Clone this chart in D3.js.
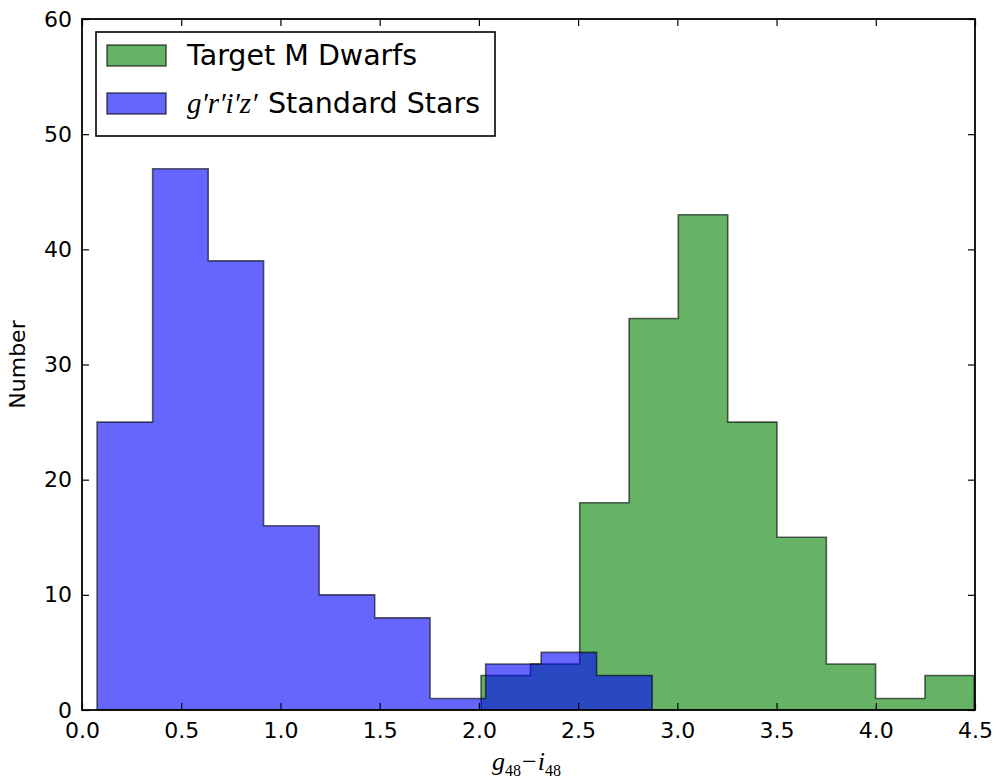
<!DOCTYPE html>
<html>
<head>
<meta charset="utf-8">
<script src="https://cdn.jsdelivr.net/npm/d3@7"></script>
<style>
  html, body { margin: 0; padding: 0; background: #fff; }
  svg { display: block; }
</style>
</head>
<body>
<div id="chart"></div>
<script>
// Histogram bin edges and counts for the two samples
const dwarfEdges = [2.011, 2.260, 2.508, 2.757, 3.005, 3.254, 3.502, 3.751, 3.999, 4.248, 4.496];
const dwarfCounts = [3, 4, 18, 34, 43, 25, 15, 4, 1, 3];

const standardEdges = [0.076, 0.356, 0.636, 0.915, 1.195, 1.475, 1.754, 2.034, 2.314, 2.593, 2.873];
const standardCounts = [25, 47, 39, 16, 10, 8, 1, 4, 5, 3];

const xTicks = [0.0, 0.5, 1.0, 1.5, 2.0, 2.5, 3.0, 3.5, 4.0, 4.5];
const yTicks = [0, 10, 20, 30, 40, 50, 60];

const W = 998, H = 784;
const plot = { left: 82, top: 19, right: 975, bottom: 710 };

const svg = d3.select("#chart").append("svg")
  .attr("width", W).attr("height", H)
  .style("font-family", "'DejaVu Sans', sans-serif");

const x = d3.scaleLinear().domain([0, 4.5]).range([plot.left, plot.right]);
const y = d3.scaleLinear().domain([0, 60]).range([plot.bottom, plot.top]);

svg.append("defs").append("clipPath").attr("id", "plotClip")
  .append("rect")
  .attr("x", plot.left).attr("y", plot.top)
  .attr("width", plot.right - plot.left).attr("height", plot.bottom - plot.top);

// Step outline of a histogram, closed along the baseline
function stepPoints(edges, counts) {
  const pts = [[edges[0], 0]];
  counts.forEach((c, i) => {
    pts.push([edges[i], c]);
    pts.push([edges[i + 1], c]);
  });
  pts.push([edges[edges.length - 1], 0]);
  return pts;
}
const line = d3.line().x(d => x(d[0])).y(d => y(d[1]));

const g = svg.append("g").attr("clip-path", "url(#plotClip)");

const series = [
  { edges: dwarfEdges, counts: dwarfCounts, color: "#008000", label: "Target M Dwarfs" },
  { edges: standardEdges, counts: standardCounts, color: "#0000ff", label: "Standard Stars" }
];

series.forEach(s => {
  g.append("path")
    .attr("d", line(stepPoints(s.edges, s.counts)) + "Z")
    .attr("fill", s.color).attr("fill-opacity", 0.6)
    .attr("stroke", "#000").attr("stroke-opacity", 0.6)
    .attr("stroke-width", 1.6)
    .attr("stroke-linejoin", "miter");
});

// Axes with inward ticks on all four sides
const tickLen = 7;
const axB = svg.append("g").attr("transform", `translate(0,${plot.bottom})`)
  .call(d3.axisBottom(x).tickValues(xTicks).tickFormat(d3.format(".1f")).tickSizeInner(-tickLen).tickSizeOuter(0).tickPadding(12));
const axT = svg.append("g").attr("transform", `translate(0,${plot.top})`)
  .call(d3.axisTop(x).tickValues(xTicks).tickFormat("").tickSizeInner(-tickLen).tickSizeOuter(0));
const axL = svg.append("g").attr("transform", `translate(${plot.left},0)`)
  .call(d3.axisLeft(y).tickValues(yTicks).tickFormat(d3.format("d")).tickSizeInner(-tickLen).tickSizeOuter(0).tickPadding(10));
const axR = svg.append("g").attr("transform", `translate(${plot.right},0)`)
  .call(d3.axisRight(y).tickValues(yTicks).tickFormat("").tickSizeInner(-tickLen).tickSizeOuter(0));

[axB, axT, axL, axR].forEach(a => {
  a.select(".domain").remove();
  a.selectAll(".tick line").attr("stroke", "#000").attr("stroke-width", 1.2);
  a.selectAll("text").attr("fill", "#000").style("font-size", "22px")
    .style("font-family", "'DejaVu Sans', sans-serif");
});
axB.selectAll("text").attr("dy", "0.71em");

// Frame
svg.append("rect")
  .attr("x", plot.left).attr("y", plot.top)
  .attr("width", plot.right - plot.left).attr("height", plot.bottom - plot.top)
  .attr("fill", "none").attr("stroke", "#000").attr("stroke-width", 1.8);

// Axis titles
svg.append("text")
  .attr("transform", `translate(25,${(plot.top + plot.bottom) / 2}) rotate(-90)`)
  .attr("text-anchor", "middle")
  .style("font-size", "22px")
  .text("Number");

const xl = svg.append("text")
  .attr("x", 492).attr("y", 770)
  .attr("text-anchor", "start")
  .style("font-family", "'Liberation Serif', 'DejaVu Serif', serif")
  .style("font-size", "26px");
xl.append("tspan").style("font-style", "italic").text("g");
xl.append("tspan").attr("dy", 6).style("font-size", "16px").text("48");
xl.append("tspan").attr("dy", -6).attr("dx", 1).text("\u2212");
xl.append("tspan").attr("dx", 1).style("font-style", "italic").text("i");
xl.append("tspan").attr("dy", 6).style("font-size", "16px").text("48");

// Legend
const leg = svg.append("g");
leg.append("rect")
  .attr("x", 96).attr("y", 32).attr("width", 399).attr("height", 104)
  .attr("fill", "#fff").attr("stroke", "#000").attr("stroke-width", 1.6);

series.forEach((s, i) => {
  const yy = 45 + i * 48;
  leg.append("rect")
    .attr("x", 107).attr("y", yy).attr("width", 59).attr("height", 21)
    .attr("fill", s.color).attr("fill-opacity", 0.6)
    .attr("stroke", "#000").attr("stroke-opacity", 0.6).attr("stroke-width", 1.6);
  const t = leg.append("text")
    .attr("x", 187).attr("y", yy + 20)
    .style("font-size", "28.5px");
  if (i === 1) {
    const m = t.append("tspan")
      .style("font-family", "'Liberation Serif', 'DejaVu Serif', serif")
      .style("font-style", "italic").style("font-size", "29px");
    m.text("g\u2032r\u2032i\u2032z\u2032");
    t.append("tspan").attr("x", 268).text("Standard Stars");
  } else {
    t.text(s.label);
  }
});
</script>
</body>
</html>
